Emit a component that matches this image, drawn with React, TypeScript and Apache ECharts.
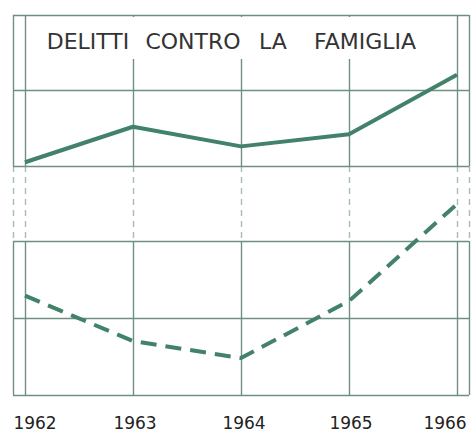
import React, { useEffect, useRef } from "react";
import * as echarts from "echarts";

const years = [1962, 1963, 1964, 1965, 1966];
const solidValues = [0.05, 0.52, 0.26, 0.42, 1.21];
const dashedValues = [1.29, 0.70, 0.48, 1.22, 2.48];
const titleWords = ["DELITTI", "CONTRO", "LA", "FAMIGLIA"];
const titleCenters = [88, 193, 273, 365];
const labelShift: Record<number, number> = { 1962: 10, 1963: 2, 1964: 3, 1965: 2, 1966: -12 };

const GRID = "#6f8f80";
const LINE = "#42826a";

export default function App() {
  const ref = useRef<HTMLDivElement>(null);
  useEffect(() => {
    if (!ref.current) return;
    const chart = echarts.init(ref.current, null, { renderer: "svg" });
    const xMin = 1962 - 12 / 108;
    const xMax = 1966 + 12 / 108;
    const rich: any = {};
    years.forEach((y) => {
      const s = labelShift[y];
      rich["y" + y] = {
        fontSize: 17,
        fontFamily: "DejaVu Sans",
        color: "#222",
        padding: s >= 0 ? [0, 0, 0, 2 * s] : [0, -2 * s, 0, 0],
      };
    });
    const baseX = (gridIndex: number, dashed: boolean, labels: boolean) => ({
      type: "value",
      gridIndex,
      min: xMin,
      max: xMax,
      splitNumber: 5,
      axisLine: { show: false },
      axisTick: { show: false },
      splitLine: {
        show: true,
        lineStyle: { color: GRID, width: 1.4, type: dashed ? [6, 5] : "solid", opacity: dashed ? 0.6 : 1 },
      },
      axisLabel: labels
        ? {
            show: true,
            showMinLabel: false,
            showMaxLabel: false,
            margin: 19,
            formatter: (v: number) => {
              const y = Math.round(v);
              return `{y${y}|${y}}`;
            },
            rich,
          }
        : { show: false },
    });

    const baseY = (gridIndex: number, show: boolean) => ({
      type: "value",
      gridIndex,
      min: 0,
      max: 2,
      interval: 1,
      axisLine: { show: false },
      axisTick: { show: false },
      axisLabel: { show: false },
      splitLine: { show, lineStyle: { color: GRID, width: 1.4 } },
    });

    chart.setOption({
      animation: false,
      backgroundColor: "#ffffff",
      grid: [
        { left: 13, width: 456, top: 15, height: 151 },
        { left: 13, width: 456, top: 166, height: 75 },
        { left: 13, width: 456, top: 241, height: 154 },
      ],
      xAxis: [baseX(0, false, false), baseX(1, true, false), baseX(2, false, true)],
      yAxis: [baseY(0, true), baseY(1, false), baseY(2, true)],
      graphic: [
        {
          type: "rect",
          z: 5,
          shape: { x: 34, y: 17, width: 413, height: 42 },
          style: { fill: "#ffffff" },
        },
        ...titleWords.map((w, i) => ({
          type: "text",
          z: 6,
          x: titleCenters[i],
          y: 41,
          style: {
            text: w,
            fontSize: 22,
            fontFamily: "DejaVu Sans",
            fill: "#333333",
            align: "center",
            verticalAlign: "middle",
          },
        })),
      ],
      series: [
        {
          type: "line",
          xAxisIndex: 0,
          yAxisIndex: 0,
          data: years.map((y, i) => [y, solidValues[i]]),
          symbol: "none",
          clip: false,
          z: 10,
          lineStyle: { color: LINE, width: 4, type: "solid" },
        },
        {
          type: "line",
          xAxisIndex: 2,
          yAxisIndex: 2,
          data: years.map((y, i) => [y, dashedValues[i]]),
          symbol: "none",
          clip: false,
          z: 10,
          lineStyle: { color: LINE, width: 4, type: [16, 9] },
        },
      ],
    });
    return () => chart.dispose();
  }, []);
  return <div ref={ref} style={{ width: 474, height: 434, position: "absolute", left: 0, top: 0 }} />;
}
